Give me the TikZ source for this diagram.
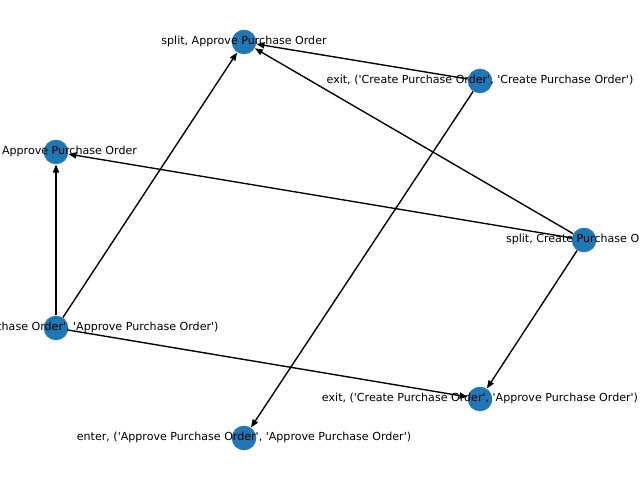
\documentclass[tikz,border=0pt]{standalone}
\usepackage{fontspec}
\setmainfont{DejaVu Sans}[Ligatures=TeXOff]
\usepackage{tikz}
\usetikzlibrary{arrows.meta, positioning}
\definecolor{stepblue}{RGB}{31, 119, 180}
\tikzstyle{activity} = [circle, fill=stepblue, draw=none, inner sep=0pt, minimum size=0.245in]
\tikzstyle{tag} = [inner sep=0pt, font=\fontsize{8}{9}\selectfont, text height=6pt, text depth=1.7pt]
\tikzstyle{arrow} = [line width=1pt, -{Triangle[length=5.8pt, width=4.4pt]}]

\begin{document}
\begin{tikzpicture}[x=0.01in, y=-0.01in]
\useasboundingbox (0,0) rectangle (640,480);

% Activity nodes
\node[activity] (split_approve) at (244,42) {};
\node[activity] (exit_cc) at (480,81) {};
\node[activity] (join_approve) at (56,152) {};
\node[activity] (split_create) at (584,240) {};
\node[activity] (enter_ca) at (56,328) {};
\node[activity] (exit_ca) at (480,399) {};
\node[activity] (enter_aa) at (244,438) {};

% Arrows
\draw[arrow] (exit_cc) -- (split_approve);
\draw[arrow] (split_create) -- (split_approve);
\draw[arrow] (enter_ca) -- (split_approve);
\draw[arrow] (enter_ca) -- (join_approve);
\draw[arrow] (split_create) -- (join_approve);
\draw[arrow] (split_create) -- (exit_ca);
\draw[arrow] (enter_ca) -- (exit_ca);
\draw[arrow] (exit_cc) -- (enter_aa);

% Labels
\node[tag] (split_approve_t) at (split_approve) {split, Approve Purchase Order};
\node[tag] (exit_cc_t) at (exit_cc) {exit, ('Create Purchase Order', 'Create Purchase Order')};
\node[tag] (join_approve_t) at (join_approve) {join, Approve Purchase Order};
\node[tag] (split_create_t) at (split_create) {split, Create Purchase Order};
\node[tag] (enter_ca_t) at (enter_ca) {enter, ('Create Purchase Order', 'Approve Purchase Order')};
\node[tag] (exit_ca_t) at (exit_ca) {exit, ('Create Purchase Order', 'Approve Purchase Order')};
\node[tag] (enter_aa_t) at (enter_aa) {enter, ('Approve Purchase Order', 'Approve Purchase Order')};

\end{tikzpicture}
\end{document}
